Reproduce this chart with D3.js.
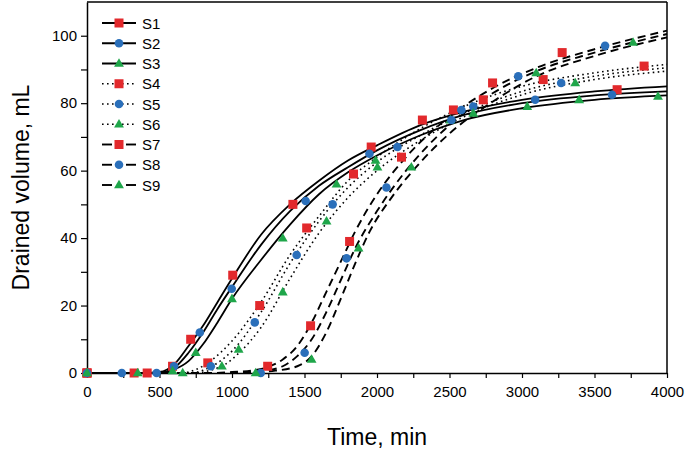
<!DOCTYPE html>
<html><head><meta charset="utf-8">
<script src="https://cdn.jsdelivr.net/npm/d3@7"></script>
<style>
html,body{margin:0;padding:0;background:#fff;}
svg{display:block;font-family:"Liberation Sans",Arial,sans-serif;}
</style></head>
<body><svg id="chart" width="685" height="452"></svg>
<script>
// ---- Data ----
const seriesNames = ["S1","S2","S3","S4","S5","S6","S7","S8","S9"];
const seriesColors = ["red","blue","green","red","blue","green","red","blue","green"];
const seriesShapes = ["square","circle","triangle","square","circle","triangle","square","circle","triangle"];
const seriesLineStyle = ["solid","solid","solid","dotted","dotted","dotted","dashed","dashed","dashed"];

// measured points [time min, volume mL]
const s1Points = [[0,0],[325,0],[590,2],[715,10],[1005,29],[1420,50],[1960,67],[2313,75],[2527,78],[3656,84]];
const s2Points = [[0,0],[240,0],[600,2],[778,12],[998,25],[1508,51],[1948,65],[2582,78],[3091,81],[3621,82.5]];
const s3Points = [[0,0],[350,0],[590,0.6],[750,6],[1000,22],[1350,40],[1721,56],[1990,63],[2506,75],[3036,79],[3394,81],[3938,82]];
const s4Points = [[0,0],[415,0],[833,3],[1191,20],[1515,43],[1838,59],[2733,81],[3146,87],[3842,91]];
const s5Points = [[0,0],[480,0],[854,2],[1157,15],[1446,35],[1694,50],[2141,67],[2664,79],[3270,86]];
const s6Points = [[0,0],[660,0],[930,2],[1046,7],[1350,24],[1652,45],[2003,61],[2664,77],[3367,86]];
const s7Points = [[0,0],[1246,2],[1542,14],[1811,39],[2169,64],[2797,86],[3277,95]];
const s8Points = [[0,0],[1198,0],[1501,6],[1790,34],[2065,55],[2513,75],[2974,88],[3573,97]];
const s9Points = [[0,0],[1163,0],[1549,4],[1873,37],[2237,61],[3098,89],[3766,98]];

// fitted curves [time min, volume mL]
const s1Fit = [[0,0],[400,0],[500,0.3],[600,2.5],[700,8],[800,14],[900,21],[1000,28],[1200,41],[1400,50],[1600,57],[1800,63],[2000,67.5],[2300,73.5],[2600,77.5],[3000,81],[3500,83.5],[4000,85]];
const s2Fit = [[0,0],[450,0],[550,0.5],[600,1.5],[700,6],[800,12],[900,19],[1000,25.5],[1200,38],[1400,48],[1600,55.5],[1800,61],[2000,66],[2300,72],[2600,76.5],[3000,80],[3500,82.3],[4000,83.5]];
const s3Fit = [[0,0],[500,0],[600,1],[700,3.5],[800,8.5],[900,15],[1000,22],[1200,33.5],[1400,44],[1600,53],[1800,59.5],[2000,64.5],[2300,70.5],[2600,75],[3000,78.5],[3500,81],[4000,82.3]];
const s4Fit = [[0,0],[650,0],[750,1],[850,3.5],[1000,9.5],[1200,21],[1400,35],[1600,46.5],[1800,57],[2000,64],[2300,72.5],[2600,79],[3000,85],[3500,89],[4000,91.5]];
const s5Fit = [[0,0],[700,0],[800,0.8],[900,3],[1000,6.5],[1200,18],[1400,32.5],[1600,45],[1800,55],[2000,62.5],[2300,70.5],[2600,77],[3000,83.5],[3500,88],[4000,90.5]];
const s6Fit = [[0,0],[750,0],[850,0.8],[950,2.5],[1050,6],[1200,13.5],[1400,28],[1600,41.5],[1800,52],[2000,60],[2300,69],[2600,76],[3000,82.5],[3500,87],[4000,89.5]];
const s7Fit = [[0,0],[850,0],[1000,0.3],[1150,0.8],[1250,1.8],[1350,4],[1450,8],[1550,15],[1650,24],[1750,33],[1850,42],[2000,53],[2200,64],[2500,76],[2800,84.5],[3100,90.5],[3500,96],[4000,101.5]];
const s8Fit = [[0,0],[950,0],[1100,0.2],[1250,0.8],[1350,2],[1450,5],[1550,10],[1650,18],[1750,27.5],[1850,37],[2000,48],[2200,60],[2500,73.5],[2800,83],[3100,89.5],[3500,95],[4000,100.5]];
const s9Fit = [[0,0],[1000,0],[1150,0.2],[1300,0.7],[1450,2],[1550,5],[1650,12],[1750,22],[1850,32.5],[1950,42],[2100,52],[2300,62.5],[2500,71],[2800,80.5],[3100,88],[3500,94],[4000,99.5]];

const allPoints = [s1Points,s2Points,s3Points,s4Points,s5Points,s6Points,s7Points,s8Points,s9Points];
const allFits = [s1Fit,s2Fit,s3Fit,s4Fit,s5Fit,s6Fit,s7Fit,s8Fit,s9Fit];

const xTicks = [0,250,500,750,1000,1250,1500,1750,2000,2250,2500,2750,3000,3250,3500,3750,4000];
const yTicks = [0,10,20,30,40,50,60,70,80,90,100];
const xTitle = "Time, min";
const yTitle = "Drained volume, mL";

// ---- Styles ----
const colorMap = {red:"#e2292c", blue:"#2a6fba", green:"#1fa64a"};
const dashMap = {solid:null, dotted:"1.6,3.4", dashed:"8,5"};
const widthMap = {solid:1.8, dotted:1.6, dashed:1.9};

const svg = d3.select("#chart");
const L=87, R=667, T=2, B=373;
const x = d3.scaleLinear().domain([0,4000]).range([L,R]);
const y = d3.scaleLinear().domain([0,110]).range([B,T]);

// frame top/right
svg.append("line").attr("x1",L).attr("x2",R).attr("y1",T).attr("y2",T).attr("stroke","#000").attr("stroke-width",1.5);
svg.append("line").attr("x1",R).attr("x2",R).attr("y1",T).attr("y2",B).attr("stroke","#000").attr("stroke-width",1.5);

// axes
const xAxis = d3.axisBottom(x).tickValues(xTicks).tickSizeInner(5).tickSizeOuter(0).tickPadding(8)
  .tickFormat(d => d % 500 === 0 ? String(d) : "");
const gx = svg.append("g").attr("transform",`translate(0,${B})`).call(xAxis);
const yAxis = d3.axisLeft(y).tickValues(yTicks).tickSizeInner(6).tickSizeOuter(0).tickPadding(4)
  .tickFormat(d => d % 20 === 0 ? String(d) : "");
const gy = svg.append("g").attr("transform",`translate(${L},0)`).call(yAxis);
[gx,gy].forEach(g=>{
  g.select(".domain").attr("stroke","#000").attr("stroke-width",1.5);
  g.selectAll(".tick line").attr("stroke","#000").attr("stroke-width",1.2);
  g.selectAll(".tick text").attr("fill","#000").attr("font-size","15px")
    .attr("font-family",'"Liberation Sans",Arial,sans-serif');
});

// titles
svg.append("text").attr("x",(L+R)/2).attr("y",445).attr("text-anchor","middle")
  .attr("font-size","23px").attr("fill","#000").text(xTitle);
svg.append("text").attr("transform",`translate(29,${(T+B)/2}) rotate(-90)`).attr("text-anchor","middle")
  .attr("font-size","23px").attr("fill","#000").text(yTitle);

// fit lines
const line = d3.line().x(d=>x(d[0])).y(d=>y(d[1])).curve(d3.curveMonotoneX);
allFits.forEach((fit,i)=>{
  const st = seriesLineStyle[i];
  svg.append("path").datum(fit).attr("d",line).attr("fill","none")
    .attr("stroke","#000").attr("stroke-width",widthMap[st])
    .attr("stroke-dasharray",dashMap[st]);
});

// markers
function drawMarker(g, shape, cx, cy, color){
  if(shape==="square"){
    g.append("rect").attr("x",cx-4.5).attr("y",cy-4.5).attr("width",9).attr("height",9).attr("fill",color);
  } else if(shape==="circle"){
    g.append("circle").attr("cx",cx).attr("cy",cy).attr("r",4.3).attr("fill",color);
  } else {
    const s=d3.symbol().type(d3.symbolTriangle).size(42);
    g.append("path").attr("d",s()).attr("transform",`translate(${cx},${cy+0.5})`).attr("fill",color);
  }
}
const mg = svg.append("g");
allPoints.forEach((pts,i)=>{
  pts.forEach(p=>drawMarker(mg, seriesShapes[i], x(p[0]), y(p[1]), colorMap[seriesColors[i]]));
});

// legend
const lg = svg.append("g");
seriesNames.forEach((name,i)=>{
  const cy = 23 + i*20.25;
  const st = seriesLineStyle[i];
  if(st==="dashed"){
    lg.append("line").attr("x1",102).attr("x2",112).attr("y1",cy).attr("y2",cy).attr("stroke","#000").attr("stroke-width",1.9);
    lg.append("line").attr("x1",126).attr("x2",136).attr("y1",cy).attr("y2",cy).attr("stroke","#000").attr("stroke-width",1.9);
  } else {
    lg.append("line").attr("x1",102).attr("x2",136).attr("y1",cy).attr("y2",cy)
      .attr("stroke","#000").attr("stroke-width",widthMap[st]).attr("stroke-dasharray",dashMap[st]);
  }
  drawMarker(lg, seriesShapes[i], 119, cy, colorMap[seriesColors[i]]);
  lg.append("text").attr("x",142).attr("y",cy+5.5).attr("font-size","15px").attr("fill","#000").text(name);
});
</script>
</body></html>
